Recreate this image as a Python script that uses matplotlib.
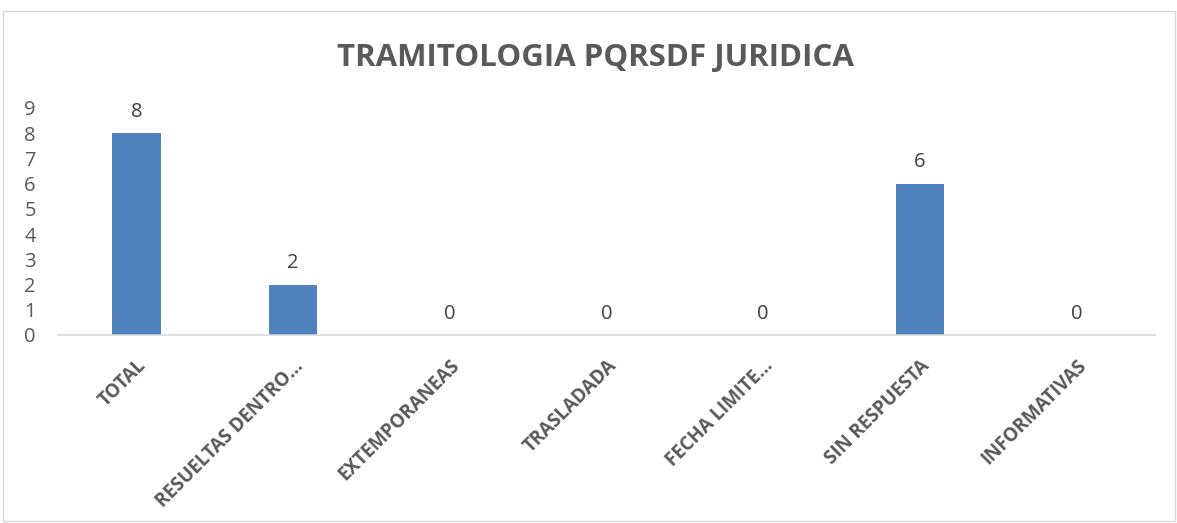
import matplotlib
matplotlib.use("Agg")
import matplotlib.pyplot as plt
from matplotlib.patches import Rectangle

categories = ["TOTAL", "RESUELTAS DENTRO…", "EXTEMPORANEAS", "TRASLADADA",
              "FECHA LIMITE…", "SIN RESPUESTA", "INFORMATIVAS"]
values = [8, 2, 0, 0, 0, 6, 0]
yticks = list(range(0, 10))
title = "TRAMITOLOGIA PQRSDF JURIDICA"

plt.rcParams['font.family'] = ['Open Sans', 'DejaVu Sans']

fig = plt.figure(figsize=(11.77, 5.23), dpi=100)
fig.patches.append(Rectangle((3/1177, 2/523), 1172/1177, 510/523, transform=fig.transFigure,
                             fill=False, edgecolor='#d9d9d9', linewidth=1))
ax = fig.add_axes([58/1177, 1-335/523, (1155-58)/1177, (335-108)/523])

x = list(range(len(categories)))
bars = ax.bar(x, values, width=0.31, color='#4f81bd', zorder=2)
for xi, v in zip(x, values):
    ax.text(xi, v + 0.45, str(v), ha='center', va='bottom', fontsize=14.5, color='#404040')

ax.set_xlim(-0.5, len(categories) - 0.5)
ax.set_ylim(0, 9)
ax.set_yticks(yticks)
ax.set_yticklabels([str(t) for t in yticks], fontsize=14.5, color='#595959')
ax.set_xticks(x)
ax.set_xticklabels(categories, rotation=45, ha='right', rotation_mode='anchor',
                   fontsize=13.5, fontweight='bold', color='#595959')
ax.tick_params(axis='both', length=0)
ax.tick_params(axis='y', pad=16)
ax.tick_params(axis='x', pad=15)
for s in ['top', 'right', 'left']:
    ax.spines[s].set_visible(False)
ax.spines['bottom'].set_color('#d9d9d9')
ax.spines['bottom'].set_linewidth(1.2)

fig.text(595/1177, 1-58/523, title, ha='center', va='center', fontsize=22.5,
         fontweight='bold', color='#595959')

fig.savefig("out.png", dpi=100)
